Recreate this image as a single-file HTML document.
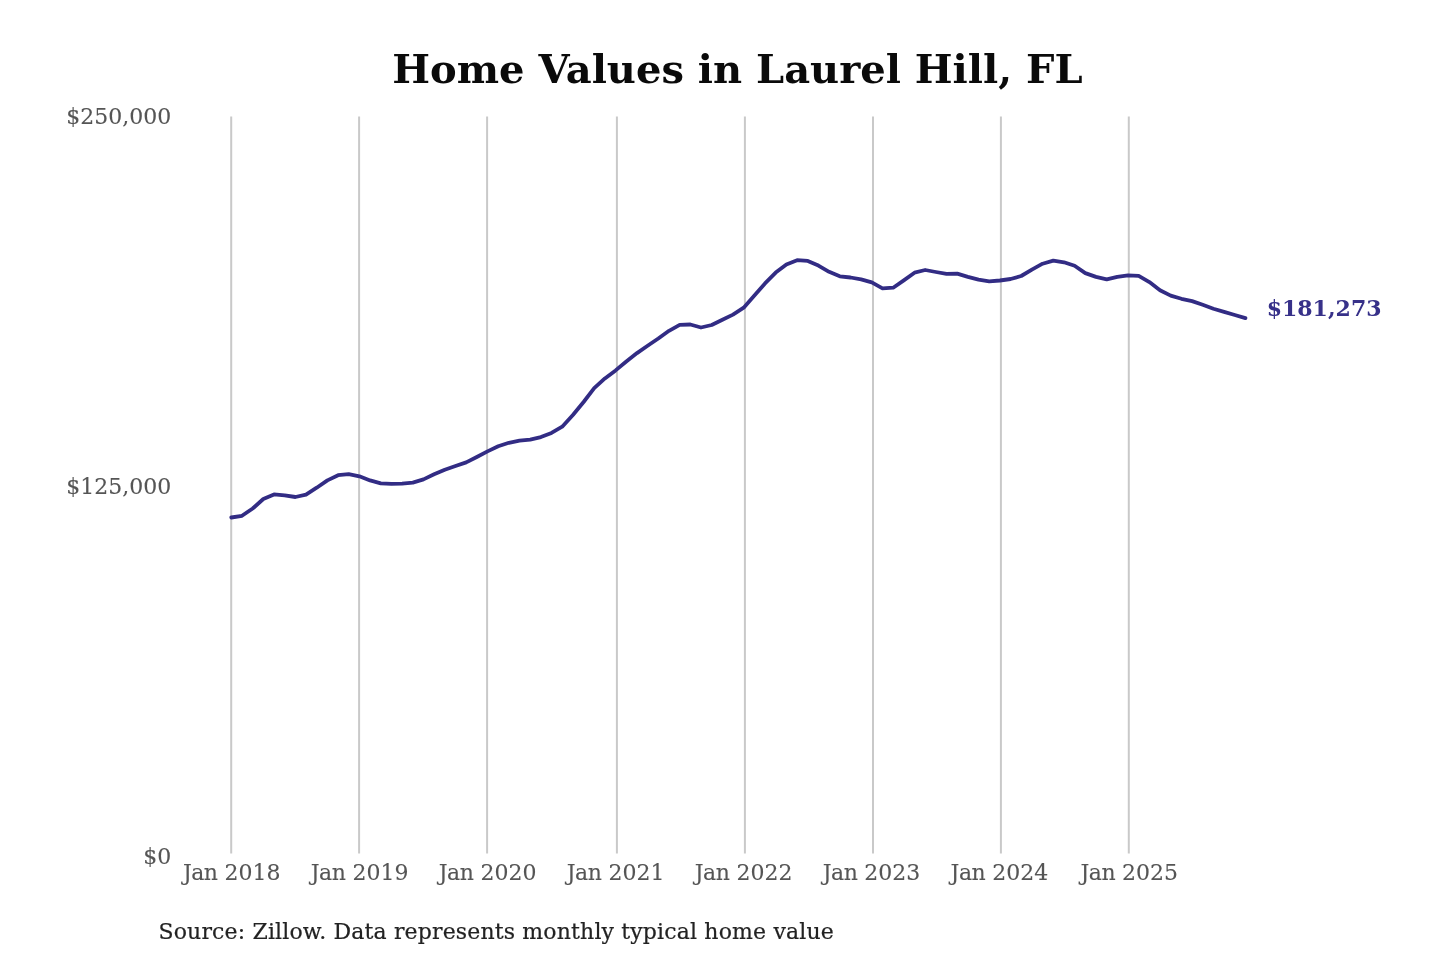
<!DOCTYPE html>
<html lang="en"><head><meta charset="utf-8"><title>Home Values in Laurel Hill, FL</title>
<style>
html,body{margin:0;padding:0;background:#fff;}
body{width:1440px;height:960px;overflow:hidden;font-family:"DejaVu Serif","Liberation Serif",serif;}
svg{display:block;}
svg text{font-family:"DejaVu Serif","Liberation Serif",serif;}
.title{font-size:40px;font-weight:bold;fill:#0a0a0a;text-anchor:middle;}
.yl text{font-size:22px;fill:#555;stroke:#555;stroke-width:0.1px;text-anchor:end;}
.xl text{font-size:22px;fill:#555;stroke:#555;stroke-width:0.1px;text-anchor:middle;}
.xl tspan{letter-spacing:-0.5px;}
.src{font-size:22px;fill:#222;stroke:#222;stroke-width:0.2px;letter-spacing:0.15px;}
.end{font-size:22px;font-weight:bold;fill:#373189;}
.grid line{stroke:#c9c9c9;stroke-width:2;}
</style></head><body>
<svg width="1440" height="960" viewBox="0 0 1440 960">
<rect width="1440" height="960" fill="#ffffff"/>
<text class="title" x="737.4" y="83.4">Home Values in Laurel Hill, FL</text>
<g class="grid"><line x1="231.2" y1="116.6" x2="231.2" y2="853.4"/><line x1="359.1" y1="116.6" x2="359.1" y2="853.4"/><line x1="487.1" y1="116.6" x2="487.1" y2="853.4"/><line x1="616.9" y1="116.6" x2="616.9" y2="853.4"/><line x1="744.9" y1="116.6" x2="744.9" y2="853.4"/><line x1="873.0" y1="116.6" x2="873.0" y2="853.4"/><line x1="1000.9" y1="116.6" x2="1000.9" y2="853.4"/><line x1="1128.8" y1="116.6" x2="1128.8" y2="853.4"/></g>
<g class="yl"><text x="171.2" y="124.0">$250,000</text><text x="171.2" y="494.0">$125,000</text><text x="171.2" y="863.6">$0</text></g>
<g class="xl"><text x="231.7" y="879.9"><tspan>Jan</tspan> 2018</text><text x="359.6" y="879.9"><tspan>Jan</tspan> 2019</text><text x="487.6" y="879.9"><tspan>Jan</tspan> 2020</text><text x="615.6" y="879.9"><tspan>Jan</tspan> 2021</text><text x="743.6" y="879.9"><tspan>Jan</tspan> 2022</text><text x="871.5" y="879.9"><tspan>Jan</tspan> 2023</text><text x="999.4" y="879.9"><tspan>Jan</tspan> 2024</text><text x="1129.3" y="879.9"><tspan>Jan</tspan> 2025</text></g>
<path d="M231.3 517.5 L242.0 515.8 L252.7 508.5 L263.3 499.0 L274.0 494.4 L284.7 495.4 L295.4 497.0 L306.0 494.6 L316.7 487.7 L327.4 480.4 L338.1 475.2 L348.7 474.2 L359.4 476.3 L370.1 480.4 L380.8 483.3 L391.4 483.8 L402.1 483.6 L412.8 482.6 L423.5 479.4 L434.1 474.3 L444.8 469.7 L455.5 466.0 L466.2 462.4 L476.8 457.0 L487.5 451.4 L498.2 446.3 L508.9 442.8 L519.5 440.7 L530.2 439.6 L540.9 437.1 L551.5 432.9 L562.2 426.7 L572.9 415.0 L583.6 402.0 L594.2 388.2 L604.9 378.4 L615.6 370.4 L626.3 361.5 L637.0 353.1 L647.6 345.8 L658.3 338.5 L669.0 330.8 L679.7 324.9 L690.3 324.5 L701.0 327.5 L711.7 325.0 L722.4 319.8 L733.0 314.6 L743.7 307.7 L754.4 295.6 L765.0 283.4 L775.7 272.6 L786.4 264.4 L797.1 260.2 L807.8 260.9 L818.4 265.6 L829.1 271.8 L839.8 276.3 L850.5 277.5 L861.1 279.4 L871.8 282.3 L882.5 288.3 L893.2 287.7 L903.8 280.4 L914.5 272.7 L925.2 270.0 L935.9 272.0 L946.5 273.8 L957.2 273.6 L967.9 276.9 L978.5 279.7 L989.2 281.3 L999.9 280.5 L1010.6 279.0 L1021.2 276.0 L1031.9 269.6 L1042.6 263.7 L1053.3 260.6 L1064.0 262.3 L1074.6 265.8 L1085.3 273.1 L1096.0 276.9 L1106.7 279.4 L1117.3 276.9 L1128.0 275.4 L1138.7 275.8 L1149.4 282.1 L1160.0 290.2 L1170.7 295.6 L1181.4 298.8 L1192.1 301.1 L1202.7 304.8 L1213.4 308.8 L1224.1 311.9 L1234.8 315.0 L1245.4 318.1" fill="none" stroke="#322c84" stroke-width="3.8" stroke-linecap="round" stroke-linejoin="round"/>
<text class="end" x="1266.7" y="315.9">$181,273</text>
<text class="src" x="158.5" y="938.7">Source: Zillow. Data represents monthly typical home value</text>
</svg>
</body></html>
